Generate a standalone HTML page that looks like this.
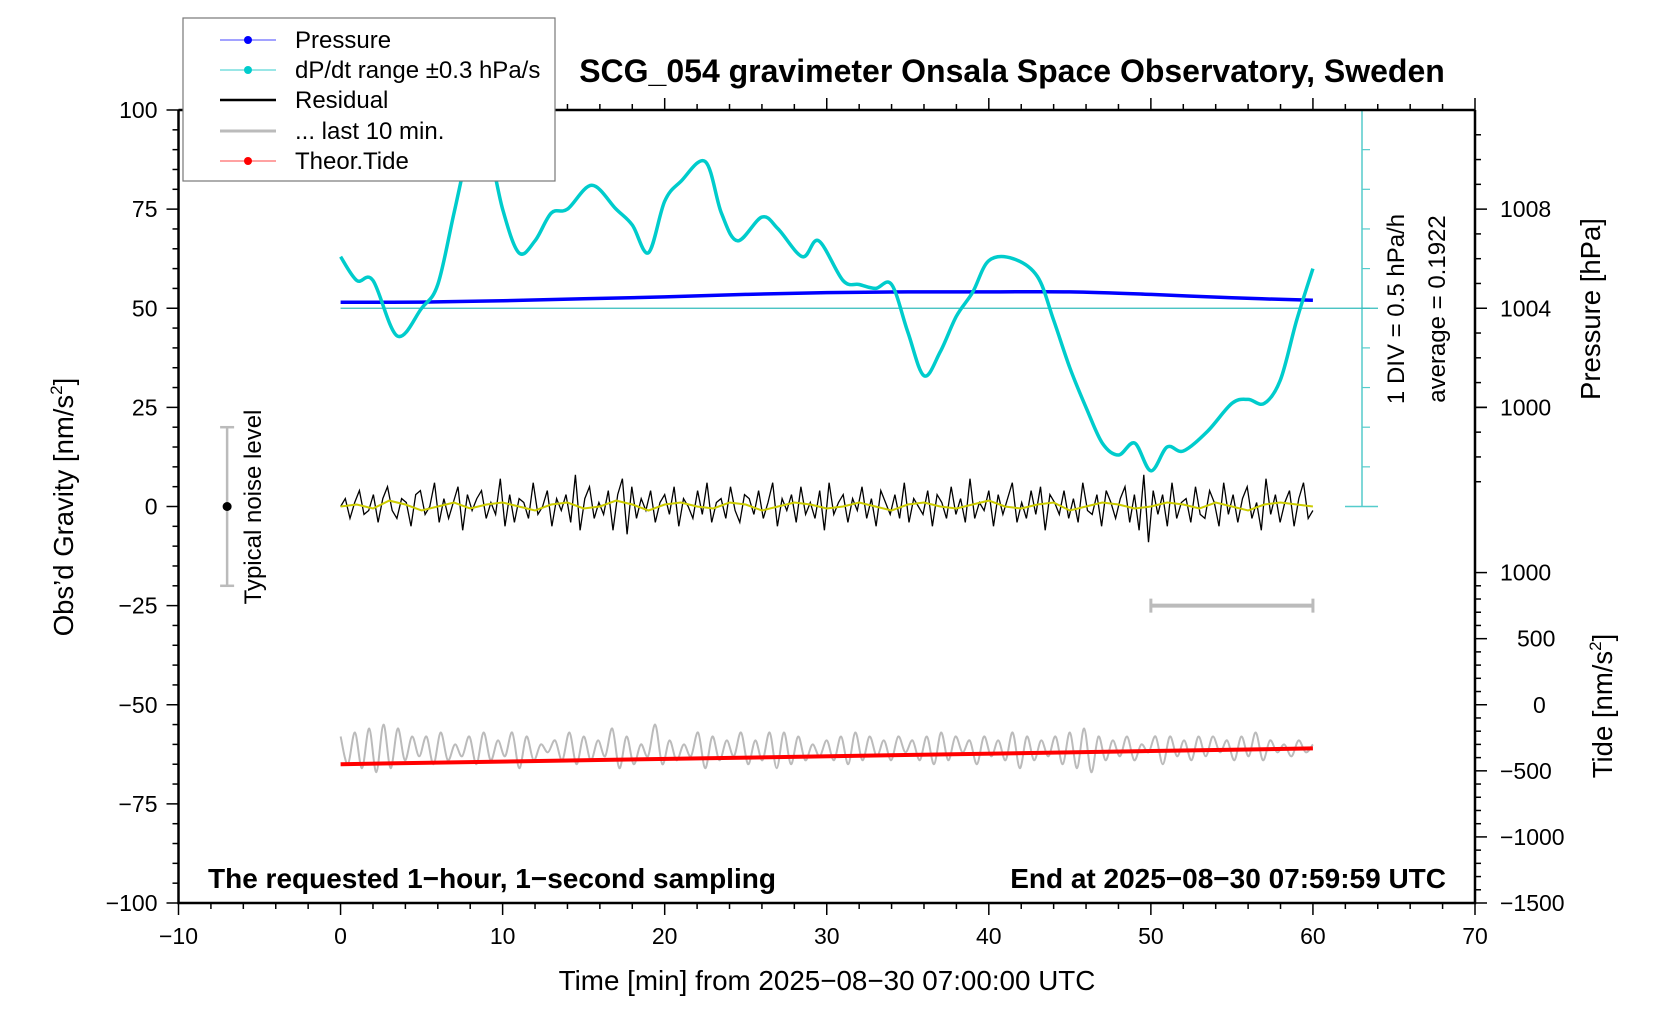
<!DOCTYPE html>
<html><head><meta charset="utf-8"><style>
html,body{margin:0;padding:0;background:#fff}
svg{display:block;font-family:"Liberation Sans",Arial,sans-serif}
</style></head><body>
<svg id="chart" width="1676" height="1020" viewBox="0 0 1676 1020" xmlns="http://www.w3.org/2000/svg">
<g id="marks"></g>
<g id="axes"></g>
<text x="1012" y="82" font-size="32" font-weight="bold" text-anchor="middle">SCG_054 gravimeter Onsala Space Observatory, Sweden</text>
<text x="208" y="888" font-size="28" font-weight="bold">The requested 1−hour, 1−second sampling</text>
<text x="1446" y="888" font-size="28" font-weight="bold" text-anchor="end">End at 2025−08−30 07:59:59 UTC</text>
<text x="827" y="990" font-size="27.8" text-anchor="middle">Time [min] from 2025−08−30 07:00:00 UTC</text>
<text transform="translate(73,507) rotate(-90)" font-size="27.5" text-anchor="middle">Obs’d Gravity [nm/s<tspan font-size="17" dy="-11">2</tspan><tspan dy="11">]</tspan></text>
<text transform="translate(1600,309) rotate(-90)" font-size="27.5" text-anchor="middle">Pressure [hPa]</text>
<text transform="translate(1612,706) rotate(-90)" font-size="27.5" text-anchor="middle">Tide [nm/s<tspan font-size="17" dy="-11">2</tspan><tspan dy="11">]</tspan></text>
<text transform="translate(1404,309) rotate(-90)" font-size="24" text-anchor="middle">1 DIV = 0.5 hPa/h</text>
<text transform="translate(1445,309) rotate(-90)" font-size="24" text-anchor="middle">average = 0.1922</text>
<text transform="translate(261,507) rotate(-90)" font-size="24" text-anchor="middle">Typical noise level</text>
<g>
<rect x="183" y="18" width="372" height="163" fill="#fff" stroke="#777" stroke-width="1.2"/>
<g><line x1="220" y1="40" x2="276" y2="40" stroke="#44f" stroke-width="1"/><circle cx="248" cy="40" r="4" fill="#00f"/><text x="295" y="48" font-size="24">Pressure</text></g>
<g><line x1="220" y1="70" x2="276" y2="70" stroke="#3cc" stroke-width="1"/><circle cx="248" cy="70" r="4" fill="#0cc"/><text x="295" y="78" font-size="24">dP/dt range ±0.3 hPa/s</text></g>
<g><line x1="220" y1="100" x2="276" y2="100" stroke="#000" stroke-width="2.5"/><text x="295" y="108" font-size="24">Residual</text></g>
<g><line x1="220" y1="131" x2="276" y2="131" stroke="#bbb" stroke-width="3"/><text x="295" y="139" font-size="24">... last 10 min.</text></g>
<g><line x1="220" y1="161" x2="276" y2="161" stroke="#f44" stroke-width="1"/><circle cx="248" cy="161" r="4" fill="#f00"/><text x="295" y="169" font-size="24">Theor.Tide</text></g>
</g>
</svg>
<script>
// ---- data ----
const xTicks=[-10,0,10,20,30,40,50,60,70];
const yTicks=[100,75,50,25,0,-25,-50,-75,-100];
const yTickLabels=["100","75","50","25","0","−25","−50","−75","−100"];
const pTicks=[1008,1004,1000];
const tideTicks=[1000,500,0,-500,-1000,-1500];
const tideTickLabels=["1000","500","0","−500","−1000","−1500"];
const dpdtTime=[0,1,2,3.5,5,6,7,8,8.6,9.2,10,11,12,13,14,15.5,17,18,19,20,21,22.5,23.5,24.5,26,27,28.5,29.5,31,32,33,34,35,36,37,38,39,40,41.5,43,44,45,46,47,48,49,50,51,52,53.5,55,56,57,58,59,60];
const dpdtValue=[63,57,57,43,50,56,74,92,96,90,75,64,67,74,75,81,75,71,64,77,82,87,74,67,73,70,63,67,57,56,55,56,44,33,39,48,54,62,62.5,58,47,35,25,16,13,16,9,15,14,19,26,27,26,32,47,60];
const pressureTime=[0,5,10,15,20,25,30,35,40,45,50,55,60];
const pressureHpa=[1004.24,1004.25,1004.3,1004.38,1004.46,1004.56,1004.63,1004.66,1004.66,1004.66,1004.56,1004.42,1004.32];
const residual=[0,2,-3,1,4,-2,-1,3,-4,2,5,-1,-3,2,1,-5,3,4,-2,0,6,-4,2,-3,1,5,-6,3,-1,2,4,-3,1,-2,7,-5,3,-4,2,1,-3,6,-2,0,4,-5,2,-1,3,-4,8,-6,2,5,-3,1,-2,4,-6,3,7,-7,5,-3,2,-1,4,-4,1,3,-2,5,-5,2,0,-3,4,-2,6,-4,1,2,-3,5,-1,-4,3,2,-2,4,-3,1,6,-5,2,-1,3,-4,5,-2,1,-3,4,-6,6,-2,1,3,-4,2,-1,5,-3,2,-5,4,1,-2,3,-3,6,-4,2,0,-2,4,-5,3,1,-3,5,-2,2,-4,7,-3,1,-1,4,-5,3,-2,2,6,-4,1,-3,4,-2,5,-6,3,1,-2,4,-3,2,-4,6,-1,-2,3,-5,4,1,-3,2,5,-4,3,-6,8,-9,4,-2,3,-5,6,-3,1,2,-4,5,-2,-3,4,1,-5,6,-2,3,-4,2,5,-3,1,-6,7,-2,3,-4,1,4,-5,2,6,-3,-1];
const residualSmooth=[0,0.5,-0.5,1.5,0.5,-1,0,1,-0.5,0.5,1,0,-1,0.5,1,-0.5,0,1.5,0.5,-1,0.5,1,0,-0.5,1,0.5,-1,0,1,0.5,-0.5,0,1,0,-1,0.5,1,0,-0.5,0.5,1.5,0,-0.5,0.5,1,-1,0,1,0.5,-0.5,0,1,0.5,-0.5,1,0,-1,0.5,1,0.5,0];
const grayTrace=[-58,-65,-57,-66,-56,-67,-55,-66,-56,-64,-58,-63,-58,-65,-57,-64,-60,-63,-58,-65,-57,-64,-59,-63,-57,-66,-58,-64,-60,-62,-59,-64,-57,-65,-58,-64,-59,-63,-56,-66,-58,-65,-60,-63,-55,-65,-59,-64,-60,-63,-57,-66,-58,-64,-59,-63,-57,-65,-59,-64,-57,-66,-57,-65,-58,-64,-60,-63,-59,-64,-58,-65,-57,-64,-58,-63,-59,-64,-58,-62,-59,-64,-58,-65,-57,-64,-58,-62,-59,-65,-58,-63,-59,-64,-57,-66,-58,-64,-59,-63,-58,-65,-57,-66,-56,-67,-58,-64,-59,-63,-58,-64,-60,-62,-58,-65,-58,-63,-59,-64,-58,-63,-58,-62,-59,-64,-58,-63,-57,-64,-59,-62,-60,-63,-59,-62,-60];
const tideTime=[0,60];
const tideValue=[-450,-330];
// ---- scales ----
const X0=178.5,X1=1475,Y0=110,Y1=903;
function xs(t){return X0+(t+10)/80*(X1-X0);}
function ys(g){return Y0+(100-g)/200*(Y1-Y0);}
function pToG(p){return 50+(p-1004)*6.25;}
function tideToG(t){return -50+t/30;}
const NS="http://www.w3.org/2000/svg";
const marks=document.getElementById('marks'),axes=document.getElementById('axes');
function mk(tag,attrs,parent){const e=document.createElementNS(NS,tag);for(const k in attrs)e.setAttribute(k,attrs[k]);parent.appendChild(e);return e;}
function smoothPath(pts){let d="M"+pts[0][0].toFixed(1)+","+pts[0][1].toFixed(1);
 for(let i=0;i<pts.length-1;i++){const p0=pts[Math.max(0,i-1)],p1=pts[i],p2=pts[i+1],p3=pts[Math.min(pts.length-1,i+2)];
 d+=" C"+(p1[0]+(p2[0]-p0[0])/6).toFixed(1)+","+(p1[1]+(p2[1]-p0[1])/6).toFixed(1)+" "+(p2[0]-(p3[0]-p1[0])/6).toFixed(1)+","+(p2[1]-(p3[1]-p1[1])/6).toFixed(1)+" "+p2[0].toFixed(1)+","+p2[1].toFixed(1);}
 return d;}
function linePath(pts){return pts.map((p,i)=>(i?"L":"M")+p[0].toFixed(1)+","+p[1].toFixed(1)).join(" ");}
const cx=1362;
let e=mk('line',{x1:cx,y1:ys(100),x2:cx,y2:ys(0),stroke:'#5cc',"stroke-width":1.5},marks);

for(let g=10;g<100;g+=10){mk('line',{x1:cx,y1:ys(g),x2:cx+8,y2:ys(g),stroke:'#5cc',"stroke-width":1.2},marks);}
mk('line',{x1:cx-17,y1:ys(100),x2:cx+16,y2:ys(100),stroke:'#5cc',"stroke-width":1.5},marks);
mk('line',{x1:cx-17,y1:ys(0),x2:cx+16,y2:ys(0),stroke:'#5cc',"stroke-width":1.5},marks);
e=mk('line',{x1:xs(0),y1:ys(50),x2:cx+16,y2:ys(50),stroke:'#3bb',"stroke-width":1.2},marks);

e=mk('path',{d:smoothPath(grayTrace.map((v,i)=>[xs(i*60/(grayTrace.length-1)),ys(v)])),fill:'none',stroke:'#bbb',"stroke-width":2},marks);

e=mk('path',{d:linePath(tideTime.map((t,i)=>[xs(t),ys(tideToG(tideValue[i]))])),fill:'none',stroke:'#f00',"stroke-width":4},marks);

e=mk('path',{d:linePath(residual.map((v,i)=>[xs(i*60/(residual.length-1)),ys(v)])),fill:'none',stroke:'#000',"stroke-width":1.3},marks);

e=mk('path',{d:linePath(residualSmooth.map((v,i)=>[xs(i*60/(residualSmooth.length-1)),ys(v)])),fill:'none',stroke:'#cc0',"stroke-width":2},marks);

e=mk('path',{d:smoothPath(pressureTime.map((t,i)=>[xs(t),ys(pToG(pressureHpa[i]))])),fill:'none',stroke:'#00f',"stroke-width":3.5},marks);

e=mk('path',{d:smoothPath(dpdtTime.map((t,i)=>[xs(t),ys(dpdtValue[i])])),fill:'none',stroke:'#0cc',"stroke-width":3.5},marks);

e=mk('g',{},marks);

mk('line',{x1:xs(50),y1:ys(-25),x2:xs(60),y2:ys(-25),stroke:'#bbb',"stroke-width":4},e);
mk('line',{x1:xs(50),y1:ys(-25)-7,x2:xs(50),y2:ys(-25)+7,stroke:'#bbb',"stroke-width":3},e);
mk('line',{x1:xs(60),y1:ys(-25)-7,x2:xs(60),y2:ys(-25)+7,stroke:'#bbb',"stroke-width":3},e);
e=mk('g',{},marks);

mk('line',{x1:xs(-7),y1:ys(20),x2:xs(-7),y2:ys(-20),stroke:'#bbb',"stroke-width":2.5},e);
mk('line',{x1:xs(-7)-7,y1:ys(20),x2:xs(-7)+7,y2:ys(20),stroke:'#bbb',"stroke-width":2.5},e);
mk('line',{x1:xs(-7)-7,y1:ys(-20),x2:xs(-7)+7,y2:ys(-20),stroke:'#bbb',"stroke-width":2.5},e);
mk('circle',{cx:xs(-7),cy:ys(0),r:4.5,fill:'#000'},e);
e=mk('path',{d:`M${X0},${Y0} L${X0},${Y1} L${X1},${Y1} L${X1},${Y0} M${X0},${Y0} L${X0+400},${Y0} M555,${Y0} L${X1},${Y0}`,fill:'none',stroke:'#000',"stroke-width":2.5},axes);

for(let t=-10;t<=70;t+=2){const big=t%10===0;
 mk('line',{x1:xs(t),y1:Y1,x2:xs(t),y2:Y1+(big?12:6),stroke:'#000',"stroke-width":1.5},axes);
 if(xs(t)>555)mk('line',{x1:xs(t),y1:Y0,x2:xs(t),y2:Y0-(big?12:6),stroke:'#000',"stroke-width":1.5},axes);}
xTicks.forEach(t=>{const tx=mk('text',{x:xs(t),y:Y1+41,"font-size":23,"text-anchor":"middle"},axes);tx.textContent=(t<0?"−":"")+Math.abs(t);
 });
for(let g=-100;g<=100;g+=5){const big=g%25===0;mk('line',{x1:X0,y1:ys(g),x2:X0-(big?12:6),y2:ys(g),stroke:'#000',"stroke-width":1.5},axes);}
yTicks.forEach((g,i)=>{const tx=mk('text',{x:X0-21,y:ys(g)+8,"font-size":23,"text-anchor":"end"},axes);tx.textContent=yTickLabels[i];
 });
for(let p=1000;p<=1011;p++){const g=pToG(p);if(g>100)continue;mk('line',{x1:X1,y1:ys(g),x2:X1+(p%4===0?12:6),y2:ys(g),stroke:'#000',"stroke-width":1.5},axes);}
for(let p=1000;p>=997;p--){mk('line',{x1:X1,y1:ys(pToG(p)),x2:X1+(p%4===0?12:6),y2:ys(pToG(p)),stroke:'#000',"stroke-width":1.5},axes);}
pTicks.forEach(p=>{const tx=mk('text',{x:X1+25,y:ys(pToG(p))+8,"font-size":23},axes);tx.textContent=p;
 });
for(let t=-1500;t<=1000;t+=100){mk('line',{x1:X1,y1:ys(tideToG(t)),x2:X1+(t%500===0?12:6),y2:ys(tideToG(t)),stroke:'#000',"stroke-width":1.5},axes);}
tideTicks.forEach((t,i)=>{const tx=mk('text',{x:X1+(t>=0&&t<1000?(t===0?58:42):25),y:ys(tideToG(t))+8,"font-size":23},axes);tx.textContent=tideTickLabels[i];
 });
</script>
</body></html>
